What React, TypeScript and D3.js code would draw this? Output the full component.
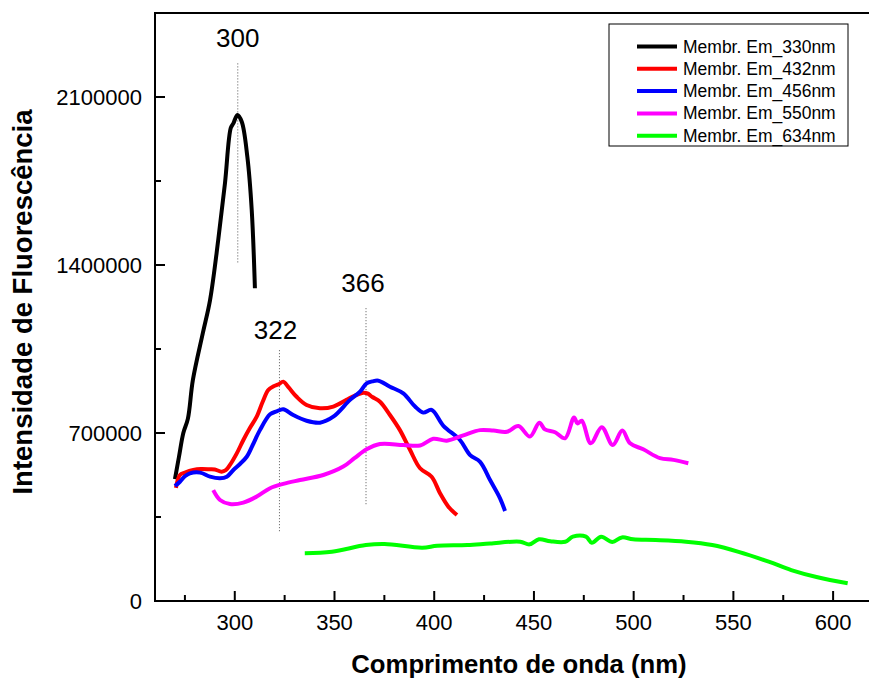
import React from "react";
import * as d3 from "d3";

// Emission spectra of the membrane preparation at five emission wavelengths
const wl330 = [270, 272, 274.2, 276.5, 279, 284, 287.6, 291.7, 295.1, 298, 299.3, 301.3, 303.5, 306.3, 308.5, 310.1];
const int330 = [508000, 600000, 700000, 760000, 921000, 1117000, 1254000, 1504000, 1742000, 1971000, 1990000, 2025000, 1997000, 1851000, 1629000, 1303000];

const wl432 = [270.5, 272.5, 275, 279.2, 283, 287.6, 290, 293.4, 295.5, 297.6, 301, 304.3, 307.5, 311, 314, 316.8, 319.5, 322, 324.3, 327, 331, 336, 342.7, 349.4, 356, 360, 364.5, 366.5, 369, 372.8, 377.8, 382.8, 387.9, 392.9, 398.7, 402.9, 407.1, 411.4];
const int432 = [471000, 525000, 535000, 546000, 550000, 549000, 548000, 539000, 545000, 567000, 615000, 671000, 720000, 768000, 830000, 879000, 895000, 903000, 914000, 890000, 851000, 817000, 803000, 810000, 838000, 855000, 868000, 865000, 850000, 830000, 775000, 712000, 629000, 553000, 518000, 449000, 393000, 358000];

const wl456 = [270, 272.5, 275, 277.5, 282.6, 287.6, 292.6, 296, 299.3, 302.5, 306, 309, 312.6, 317.7, 321, 324.3, 329.3, 336, 342.7, 349.4, 357.8, 362.8, 366.1, 369, 372, 377.8, 384.5, 390.4, 394.5, 398.7, 404.6, 412.9, 418, 423, 428, 433, 435.5];
const int456 = [479000, 497000, 520000, 532000, 535000, 518000, 511000, 518000, 546000, 570000, 601000, 650000, 712000, 778000, 790000, 799000, 775000, 751000, 743000, 768000, 838000, 872000, 907000, 915000, 918000, 893000, 865000, 810000, 785000, 796000, 730000, 671000, 608000, 580000, 504000, 428000, 375000];

const wl550 = [289.2, 292.6, 297.6, 304.3, 311, 317.7, 324.3, 332.7, 344.4, 354.4, 360, 366.1, 372.8, 384.5, 392.9, 399.5, 406.3, 414.6, 423, 429.7, 436.4, 442.2, 448, 452.7, 455.5, 460.6, 465.6, 470.1, 471.8, 474, 478.5, 484, 489.5, 494.3, 498.2, 504.8, 513.2, 519.9, 527.4];
const int550 = [462000, 421000, 404000, 410000, 435000, 470000, 488000, 504000, 525000, 560000, 595000, 632000, 654000, 650000, 648000, 676000, 668000, 690000, 712000, 710000, 705000, 729000, 685000, 743000, 715000, 703000, 678000, 765000, 740000, 751000, 657000, 724000, 650000, 710000, 657000, 632000, 595000, 588000, 574000];

const wl634 = [335.1, 348.7, 365.7, 375.1, 394, 401.5, 416.6, 428, 443.1, 447.8, 452.5, 458.2, 465.7, 469.5, 476.1, 479, 483.7, 489.3, 494.1, 499.7, 511, 526.2, 539.4, 552.6, 567.7, 579, 592.2, 607.3];
const int634 = [199000, 205000, 233000, 237500, 222000, 230000, 233000, 240000, 247000, 236000, 257000, 249000, 247000, 268000, 268000, 243000, 268000, 246000, 265000, 257000, 254000, 247000, 233000, 205000, 164000, 129000, 99000, 74000];

const seriesNames = ["Membr. Em_330nm", "Membr. Em_432nm", "Membr. Em_456nm", "Membr. Em_550nm", "Membr. Em_634nm"];
const seriesColors = ["#000000", "#ff0000", "#0000ff", "#ff00ff", "#00ff00"];
const seriesX = [wl330, wl432, wl456, wl550, wl634];
const seriesY = [int330, int432, int456, int550, int634];

const xTicks = [300, 350, 400, 450, 500, 550, 600];
const xMinorTicks = [275, 325, 375, 425, 475, 525, 575];
const yTicks = [0, 700000, 1400000, 2100000];
const yMinorTicks = [350000, 1050000, 1750000];

// Peak markers: label text, wavelength of the guide line, guide extent (intensity)
const peakLabels = ["300", "322", "366"];
const peakX = [301.5, 322.4, 365.8];
const peakTop = [2240000, 1045000, 1220000];
const peakBottom = [1410000, 285000, 395000];

const W = 869;
const H = 680;
const margin = { left: 155, top: 13, right: 873, bottom: 601 };
const font = "'Liberation Sans', Arial, sans-serif";

export default function App() {
  const x = d3.scaleLinear().domain([260, 620]).range([margin.left, margin.right]);
  const y = d3.scaleLinear().domain([0, 2450000]).range([margin.bottom, margin.top]);

  const line = d3
    .line<[number, number]>()
    .x((d) => x(d[0]))
    .y((d) => y(d[1]))
    .curve(d3.curveCatmullRom.alpha(0.5));

  const legendX = 609;
  const legendY = 24;
  const legendRow = 22.3;

  return (
    <svg
      width={W}
      height={H}
      style={{ position: "absolute", left: 0, top: 0, background: "#fff" }}
      fontFamily={font}
    >
      <rect x={0} y={0} width={W} height={H} fill="#fff" />

      {/* plot frame */}
      <rect
        x={margin.left}
        y={margin.top}
        width={margin.right - margin.left}
        height={margin.bottom - margin.top}
        fill="none"
        stroke="#000"
        strokeWidth={2}
      />

      {/* x ticks (inward) */}
      {xTicks.map((t) => (
        <g key={"xt" + t}>
          <line x1={x(t)} x2={x(t)} y1={margin.bottom} y2={margin.bottom - 10} stroke="#000" strokeWidth={2} />
          <text x={x(t)} y={margin.bottom + 29} fontSize={22} textAnchor="middle" fill="#000">
            {t}
          </text>
        </g>
      ))}
      {xMinorTicks.map((t) => (
        <line key={"xm" + t} x1={x(t)} x2={x(t)} y1={margin.bottom} y2={margin.bottom - 6} stroke="#000" strokeWidth={2} />
      ))}

      {/* y ticks (inward) */}
      {yTicks.map((t) => (
        <g key={"yt" + t}>
          <line x1={margin.left} x2={margin.left + 10} y1={y(t)} y2={y(t)} stroke="#000" strokeWidth={2} />
          <text x={margin.left - 13} y={y(t) + 7.5} fontSize={22} textAnchor="end" fill="#000">
            {t}
          </text>
        </g>
      ))}
      {yMinorTicks.map((t) => (
        <line key={"ym" + t} x1={margin.left} x2={margin.left + 6} y1={y(t)} y2={y(t)} stroke="#000" strokeWidth={2} />
      ))}

      {/* axis titles */}
      <text x={519} y={673} fontSize={25.7} fontWeight="bold" textAnchor="middle" fill="#000">
        Comprimento de onda (nm)
      </text>
      <text
        transform={`translate(32, 302) rotate(-90)`}
        fontSize={27.5}
        fontWeight="bold"
        textAnchor="middle"
        fill="#000"
      >
        Intensidade de Fluorescência
      </text>

      {/* peak guide lines */}
      {peakX.map((p, i) => (
        <line
          key={"pk" + i}
          x1={x(p)}
          x2={x(p)}
          y1={y(peakTop[i])}
          y2={y(peakBottom[i])}
          stroke="#555"
          strokeWidth={1}
          strokeDasharray="1,2"
        />
      ))}

      {/* spectra */}
      {seriesX.map((xs, i) => (
        <path
          key={"s" + i}
          d={line(xs.map((v, j) => [v, seriesY[i][j]] as [number, number])) || ""}
          fill="none"
          stroke={seriesColors[i]}
          strokeWidth={4}
          strokeLinejoin="round"
          strokeLinecap="butt"
        />
      ))}

      {/* peak labels */}
      <text x={x(peakX[0])} y={47} fontSize={26} textAnchor="middle" fill="#000">
        {peakLabels[0]}
      </text>
      <text x={x(peakX[1]) - 4} y={339} fontSize={26} textAnchor="middle" fill="#000">
        {peakLabels[1]}
      </text>
      <text x={x(peakX[2]) - 3} y={292} fontSize={26} textAnchor="middle" fill="#000">
        {peakLabels[2]}
      </text>

      {/* legend */}
      <rect x={legendX} y={legendY} width={239} height={122} fill="#fff" stroke="#000" strokeWidth={1} />
      {seriesNames.map((n, i) => (
        <g key={"lg" + i}>
          <line
            x1={637}
            x2={677}
            y1={legendY + 22.5 + i * legendRow}
            y2={legendY + 22.5 + i * legendRow}
            stroke={seriesColors[i]}
            strokeWidth={4}
          />
          <text x={683} y={legendY + 22.5 + i * legendRow + 6} fontSize={17.5} fill="#000">
            {n}
          </text>
        </g>
      ))}
    </svg>
  );
}
